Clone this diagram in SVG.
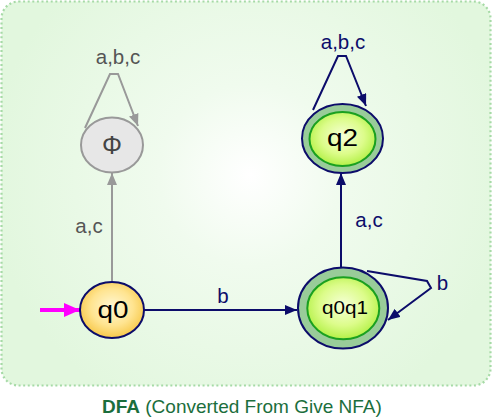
<svg xmlns="http://www.w3.org/2000/svg" width="492" height="418" viewBox="0 0 492 418">
<defs>
<radialGradient id="bg" cx="250" cy="175" r="260" gradientUnits="userSpaceOnUse">
<stop offset="0" stop-color="#ffffff"/>
<stop offset="0.35" stop-color="#f0fbee"/>
<stop offset="1" stop-color="#e2f7de"/>
</radialGradient>
<radialGradient id="yel" cx="0.5" cy="0.45" r="0.6">
<stop offset="0" stop-color="#fff8d6"/>
<stop offset="0.55" stop-color="#ffe490"/>
<stop offset="1" stop-color="#f5c23a"/>
</radialGradient>
<radialGradient id="grn" cx="0.5" cy="0.45" r="0.6">
<stop offset="0" stop-color="#f6ffd8"/>
<stop offset="0.55" stop-color="#dcfc8a"/>
<stop offset="1" stop-color="#aaee38"/>
</radialGradient>
<marker id="an" viewBox="0 0 12 10" refX="12" refY="5" markerWidth="12" markerHeight="10" markerUnits="userSpaceOnUse" orient="auto">
<path d="M0,0 L12,5 L0,10 Z" fill="#0c0c6a"/>
</marker>
<marker id="ag" viewBox="0 0 12 10" refX="12" refY="5" markerWidth="12" markerHeight="10" markerUnits="userSpaceOnUse" orient="auto">
<path d="M0,0 L12,5 L0,10 Z" fill="#999999"/>
</marker>
<marker id="am" viewBox="0 0 16 14" refX="16" refY="7" markerWidth="16" markerHeight="14" markerUnits="userSpaceOnUse" orient="auto">
<path d="M0,0 L16,7 L0,14 Z" fill="#ff00ff"/>
</marker>
</defs>
<style>
.lbl{font-family:"Liberation Sans",Arial,sans-serif;font-size:20.5px;text-anchor:middle}
.gr{fill:#555555}
.nv{fill:#0c0c6a}
.en{fill:none;stroke:#0c0c6a;stroke-width:2}
.eg{fill:none;stroke:#999999;stroke-width:2}
.ntxt{font-family:"Liberation Sans",Arial,sans-serif;text-anchor:middle;fill:#000000}
</style>
<rect x="1.5" y="1.5" width="489" height="384" rx="17" ry="17" fill="url(#bg)" stroke="#a6daa6" stroke-width="2.2" stroke-dasharray="2 2.6"/>
<g id="connectors">
<g id="e-q0-phi">
<line x1="112" y1="281" x2="112" y2="173" class="eg" marker-end="url(#ag)"/>
<text x="89" y="233" class="lbl gr">a,c</text>
</g>
<g id="e-phi-loop">
<polyline points="85,128 110,74 118,74 138,126" class="eg" marker-end="url(#ag)"/>
<text x="118" y="64" class="lbl gr">a,b,c</text>
</g>
<g id="e-q0-q0q1">
<line x1="144" y1="310" x2="297" y2="310" class="en" marker-end="url(#an)"/>
<text x="223" y="303" class="lbl nv">b</text>
</g>
<g id="e-q0q1-q2">
<line x1="341" y1="267" x2="341" y2="173" class="en" marker-end="url(#an)"/>
<text x="369" y="227" class="lbl nv">a,c</text>
</g>
<g id="e-q2-loop">
<polyline points="313,110 338,56 346,56 366,106" class="en" marker-end="url(#an)"/>
<text x="343" y="49" class="lbl nv">a,b,c</text>
</g>
<g id="e-q0q1-loop">
<polyline points="367,271 427,281 431,288 388,320" class="en" marker-end="url(#an)"/>
<text x="442.5" y="290" class="lbl nv">b</text>
</g>
<g id="e-start">
<line x1="40" y1="310" x2="80" y2="310" stroke="#ff00ff" stroke-width="4" marker-end="url(#am)"/>
</g>
</g>
<g id="node-phi">
<ellipse cx="112" cy="145" rx="31" ry="27.5" fill="#e7e7e7" stroke="#999999" stroke-width="2"/>
<text x="112" y="154" class="ntxt" font-size="25" style="fill:#444444">Φ</text>
</g>
<g id="node-q0">
<ellipse cx="112" cy="310" rx="32" ry="28" fill="url(#yel)" stroke="#0c0c6a" stroke-width="2"/>
<text x="113" y="318" class="ntxt" font-size="24" textLength="31" lengthAdjust="spacingAndGlyphs">q0</text>
</g>
<g id="node-q2">
<ellipse cx="342.5" cy="138.5" rx="40.5" ry="34.5" fill="#99cc99" stroke="#0c0c6a" stroke-width="2"/>
<ellipse cx="342.5" cy="139" rx="33" ry="27" fill="url(#grn)" stroke="#1aa020" stroke-width="2"/>
<text x="342.5" y="146" class="ntxt" font-size="24" textLength="31" lengthAdjust="spacingAndGlyphs">q2</text>
</g>
<g id="node-q0q1">
<ellipse cx="343" cy="308" rx="45" ry="40.5" fill="#99cc99" stroke="#0c0c6a" stroke-width="2"/>
<ellipse cx="343.3" cy="308.3" rx="36" ry="31" fill="url(#grn)" stroke="#1aa020" stroke-width="2"/>
<text x="345" y="313.5" class="ntxt" font-size="18" textLength="46" lengthAdjust="spacingAndGlyphs">q0q1</text>
</g>
<text x="102" y="412.5" font-family="Liberation Sans, Arial, sans-serif" font-size="19" fill="#1b6e3c"><tspan font-weight="bold">DFA</tspan> (Converted From Give NFA)</text>
</svg>
